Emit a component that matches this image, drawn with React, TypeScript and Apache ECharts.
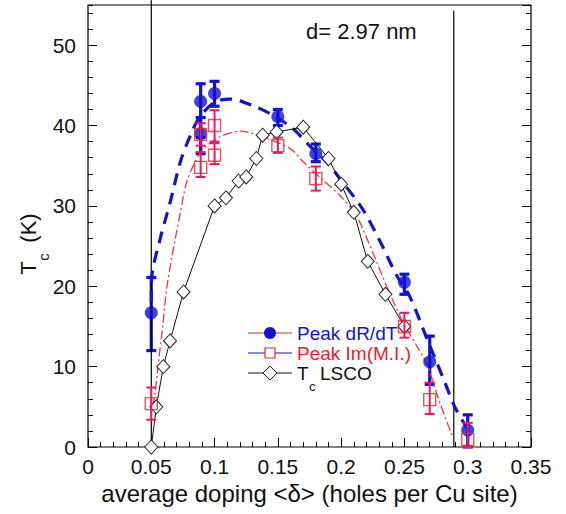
import React, { useEffect, useRef } from "react";
import * as echarts from "echarts";

// ---- data ----
const blueX = [0.05, 0.089, 0.089, 0.1, 0.15, 0.18, 0.25, 0.27, 0.3];
const blueY = [16.7, 43, 39, 44, 41.1, 36.5, 20.5, 10.6, 2.1];
const blueLo = [12, 38.5, 36.5, 42.4, 40, 35.5, 19, 7.8, 0];
const blueHi = [21.1, 45.2, 41, 45.5, 42, 37.7, 21.5, 13.8, 4];

const redX = [0.05, 0.089, 0.089, 0.1, 0.1, 0.15, 0.18, 0.25, 0.27, 0.3];
const redY = [5.4, 38.9, 34.8, 40, 36.3, 37.5, 33.4, 15, 5.9, 0.95];
const redLo = [3.4, 37.5, 33.6, 38, 35.2, 36.6, 31.9, 13.6, 4.1, 0];
const redHi = [7.4, 40.3, 36.7, 41.9, 37.8, 38.5, 34.9, 16.7, 8, 3];

const tcX = [0.05, 0.054, 0.0595, 0.0648, 0.0755, 0.1, 0.109, 0.119, 0.125, 0.133, 0.138, 0.149, 0.17, 0.19, 0.2, 0.21, 0.221, 0.235, 0.25];
const tcY = [0, 5, 10, 13.2, 19.3, 30, 31, 33.1, 33.6, 35.9, 38.8, 39.2, 39.8, 35.9, 32.7, 29.2, 23.1, 19, 15];

const blueFitX = [0.05, 0.0503, 0.057, 0.065, 0.073, 0.081, 0.088, 0.1, 0.112, 0.13, 0.146, 0.162, 0.175, 0.19, 0.201, 0.217, 0.231, 0.244, 0.254, 0.268, 0.28, 0.291, 0.302];
const blueFitY = [18, 21, 25.9, 30.5, 35.5, 38.8, 41, 42.9, 43.3, 42.5, 41.3, 39.6, 37.5, 35.2, 33, 29.6, 25.5, 21.3, 18.8, 13.4, 8.8, 4.6, 1.8];

const redFitX = [0.051, 0.053, 0.055, 0.059, 0.062, 0.066, 0.073, 0.078, 0.085, 0.091, 0.1, 0.107, 0.12, 0.141, 0.16, 0.17, 0.185, 0.199, 0.212, 0.225, 0.236, 0.249, 0.26, 0.268, 0.278, 0.288];
const redFitY = [5, 6.7, 9.6, 15, 19.5, 23.4, 29.2, 33, 35.6, 37.1, 38.2, 38.8, 39.3, 38.4, 37.1, 35.5, 33.3, 31.3, 28.8, 24.2, 20, 15.5, 12.5, 10.2, 5.5, 1.3];

const refLineX = [0.05, 0.289];
const refLineTop = [55.6, 54.3];

const xTicks = [0, 0.05, 0.1, 0.15, 0.2, 0.25, 0.3, 0.35];
const yTicks = [0, 10, 20, 30, 40, 50];

const legendNames = ["Peak dR/dT", "Peak Im(M.I.)", "LSCO"];
const annotation = "d= 2.97 nm";
const xTitle = "average doping <\u03b4> (holes per Cu site)";

const BLUE = "#1212d2";
const RED = "#ec2228";
const PINK = "#e8186a";
const FONT = "Liberation Sans, Arial, sans-serif";

function errRender(color: string, width: number, cap: number) {
  return (params: any, api: any) => {
    const x = api.value(0);
    const lo = api.coord([x, api.value(1)]);
    const hi = api.coord([x, api.value(2)]);
    const st = { stroke: color, lineWidth: width };
    return {
      type: "group",
      children: [
        { type: "line", shape: { x1: lo[0], y1: lo[1], x2: hi[0], y2: hi[1] }, style: st },
        { type: "line", shape: { x1: lo[0] - cap, y1: lo[1], x2: lo[0] + cap, y2: lo[1] }, style: st },
        { type: "line", shape: { x1: hi[0] - cap, y1: hi[1], x2: hi[0] + cap, y2: hi[1] }, style: st },
      ],
    };
  };
}

export default function App() {
  const ref = useRef<HTMLDivElement>(null);
  useEffect(() => {
    if (!ref.current) return;
    const chart = echarts.init(ref.current, undefined, { renderer: "svg" });
    const labelStyle = { color: "#111", fontSize: 21, fontFamily: FONT };
    const yBase = { type: "value", min: 0, max: 55, axisLine: { show: false }, splitLine: { show: false } };
    const legRows = [333, 353, 373];
    const lx0 = 248, lx1 = 292, lm = 270, lt = 297;
    const legFont = `19px ${FONT}`;
    chart.setOption({
      animation: false,
      grid: { left: 88, right: 35, top: 5, bottom: 67, show: true, borderColor: "#000", borderWidth: 1.2, backgroundColor: "transparent" },
      xAxis: [
        {
          type: "value", min: 0, max: 0.35, interval: 0.05,
          axisLine: { show: false }, splitLine: { show: false },
          axisTick: { inside: true, length: 9, lineStyle: { color: "#000", width: 1 } },
          minorTick: { show: true, splitNumber: 5, length: 5, lineStyle: { color: "#000", width: 1 } },
          axisLabel: {
            ...labelStyle, margin: 9,
            formatter: (v: number) => {
              const t = xTicks.find((k) => Math.abs(k - v) < 1e-9);
              return t === undefined ? "" : String(t);
            },
          },
          name: xTitle, nameLocation: "middle", nameGap: 34,
          nameTextStyle: { color: "#111", fontSize: 24, fontFamily: FONT },
        },
      ],
      yAxis: [
        {
          ...yBase, position: "left", interval: 10,
          axisTick: { inside: true, length: 9, lineStyle: { color: "#000" } },
          axisLabel: {
            ...labelStyle, margin: 12, showMaxLabel: false,
            formatter: (v: number) => (yTicks.includes(v) ? String(v) : ""),
          },
        },
        { ...yBase, position: "left", interval: 2, axisTick: { inside: true, length: 5, lineStyle: { color: "#000" } }, axisLabel: { show: false } },
        { ...yBase, position: "right", interval: 10, axisTick: { inside: true, length: 9, lineStyle: { color: "#000" } }, axisLabel: { show: false } },
        { ...yBase, position: "right", interval: 2, axisTick: { inside: true, length: 5, lineStyle: { color: "#000" } }, axisLabel: { show: false } },
      ],
      series: [
        {
          type: "line", data: [[refLineX[0], 0], [refLineX[0], refLineTop[0]]], symbol: "none", clip: false,
          lineStyle: { color: "#000", width: 1.2 }, silent: true,
        },
        {
          type: "line", data: [[refLineX[1], 0], [refLineX[1], refLineTop[1]]], symbol: "none", clip: false,
          lineStyle: { color: "#000", width: 1.2 }, silent: true,
        },
        {
          type: "line", data: blueFitX.map((x, i) => [x, blueFitY[i]]), smooth: 0.3, symbol: "none",
          lineStyle: { color: BLUE, width: 3.2, type: [12, 8] },
        },
        {
          type: "line", data: redFitX.map((x, i) => [x, redFitY[i]]), smooth: 0.3, symbol: "none",
          lineStyle: { color: "#f03a3a", width: 1.3, type: [9, 3, 2, 3] },
        },
        {
          type: "line", data: tcX.map((x, i) => [x, tcY[i]]), symbol: "diamond", symbolSize: [13, 14],
          lineStyle: { color: "#111", width: 1 },
          itemStyle: { color: "#fff", borderColor: "#222", borderWidth: 1 },
        },
        {
          type: "custom", renderItem: errRender(BLUE, 3.2, 5), encode: { x: 0, y: [1, 2] },
          data: blueX.map((x, i) => [x, blueLo[i], blueHi[i]]), z: 3,
        },
        {
          type: "scatter", data: blueX.map((x, i) => [x, blueY[i]]), symbol: "circle", symbolSize: 13,
          itemStyle: { color: BLUE }, z: 3,
        },
        {
          type: "custom", renderItem: errRender(PINK, 2, 5), encode: { x: 0, y: [1, 2] },
          data: redX.map((x, i) => [x, redLo[i], redHi[i]]), z: 4,
        },
        {
          type: "scatter", data: redX.map((x, i) => [x, redY[i]]), symbol: "rect", symbolSize: 12,
          itemStyle: { color: "rgba(255,255,255,0)", borderColor: RED, borderWidth: 1.4 }, z: 4,
        },
      ],
      graphic: [
        { type: "text", left: 306, top: 20, style: { text: annotation, fill: "#111", font: `22px ${FONT}` } },
        // y axis title
        { type: "text", x: 28, y: 268, rotation: Math.PI / 2, style: { text: "T", fill: "#111", font: `22px ${FONT}`, align: "center", verticalAlign: "middle" } },
        { type: "text", x: 43, y: 257, rotation: Math.PI / 2, style: { text: "c", fill: "#111", font: `15px ${FONT}`, align: "center", verticalAlign: "middle" } },
        { type: "text", x: 28, y: 228, rotation: Math.PI / 2, style: { text: "(K)", fill: "#111", font: `22px ${FONT}`, align: "center", verticalAlign: "middle" } },
        // legend
        { type: "line", shape: { x1: lx0, y1: legRows[0], x2: lx1, y2: legRows[0] }, style: { stroke: RED, lineWidth: 1 } },
        { type: "circle", shape: { cx: lm, cy: legRows[0], r: 6 }, style: { fill: BLUE } },
        { type: "text", x: lt, y: legRows[0], style: { text: legendNames[0], fill: BLUE, font: legFont, lineHeight: 19, verticalAlign: "middle" } },
        { type: "line", shape: { x1: lx0, y1: legRows[1], x2: lx1, y2: legRows[1] }, style: { stroke: BLUE, lineWidth: 1 } },
        { type: "rect", shape: { x: lm - 5, y: legRows[1] - 5, width: 10, height: 10 }, style: { fill: "#fff", stroke: RED, lineWidth: 1.2 } },
        { type: "text", x: lt, y: legRows[1], style: { text: legendNames[1], fill: RED, font: legFont, lineHeight: 19, verticalAlign: "middle" } },
        { type: "line", shape: { x1: lx0, y1: legRows[2], x2: lx1, y2: legRows[2] }, style: { stroke: "#111", lineWidth: 1 } },
        { type: "polygon", shape: { points: [[lm, legRows[2] - 7], [lm + 7, legRows[2]], [lm, legRows[2] + 7], [lm - 7, legRows[2]]] }, style: { fill: "#fff", stroke: "#222", lineWidth: 1 } },
        { type: "text", x: lt, y: legRows[2], style: { text: "T", fill: "#111", font: legFont, lineHeight: 19, verticalAlign: "middle" } },
        { type: "text", x: lt + 12, y: legRows[2] + 13, style: { text: "c", fill: "#111", font: `13px ${FONT}`, lineHeight: 13, verticalAlign: "middle" } },
        { type: "text", x: lt + 23, y: legRows[2], style: { text: legendNames[2], fill: "#111", font: legFont, lineHeight: 19, verticalAlign: "middle" } },
      ],
    });
    return () => chart.dispose();
  }, []);
  return <div ref={ref} style={{ position: "absolute", left: 0, top: 0, width: 566, height: 514 }} />;
}
